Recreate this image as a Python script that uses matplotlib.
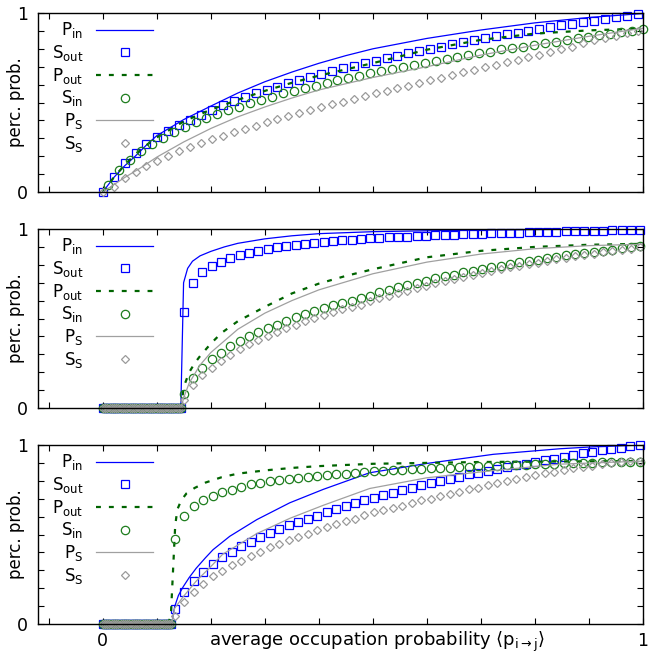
import numpy as np
import matplotlib
matplotlib.use("Agg")
import matplotlib.pyplot as plt

plt.rcParams['font.family'] = ['DejaVu Sans']
plt.rcParams['mathtext.default'] = 'regular'
plt.rcParams['font.size'] = 12

# ---------------- panel 1 ----------------
x1 = np.linspace(0.0, 1.0, 100)
s_out_1 = [0.0, 0.085, 0.16, 0.22, 0.266, 0.309, 0.343, 0.374, 0.402, 0.431,
           0.458, 0.486, 0.510, 0.529, 0.551, 0.570, 0.589, 0.607, 0.626, 0.644,
           0.659, 0.676, 0.691, 0.706, 0.719, 0.734, 0.747, 0.760, 0.775, 0.788,
           0.799, 0.812, 0.827, 0.840, 0.849, 0.858, 0.871, 0.883, 0.890, 0.899,
           0.909, 0.920, 0.931, 0.938, 0.949, 0.957, 0.964, 0.975, 0.983, 0.992]
s_in_1 = [0.039, 0.123, 0.179, 0.231, 0.268, 0.303, 0.333, 0.365, 0.389, 0.411,
          0.436, 0.458, 0.477, 0.495, 0.514, 0.533, 0.551, 0.566, 0.579, 0.594,
          0.611, 0.626, 0.639, 0.650, 0.663, 0.678, 0.687, 0.700, 0.709, 0.722,
          0.734, 0.743, 0.756, 0.765, 0.775, 0.784, 0.797, 0.806, 0.812, 0.821,
          0.830, 0.840, 0.849, 0.858, 0.868, 0.877, 0.883, 0.896, 0.901, 0.909]
s_s_1 = [0.0, 0.030, 0.076, 0.109, 0.145, 0.175, 0.201, 0.231, 0.253, 0.272,
         0.296, 0.313, 0.333, 0.352, 0.371, 0.389, 0.408, 0.425, 0.440, 0.458,
         0.473, 0.490, 0.505, 0.520, 0.536, 0.551, 0.566, 0.579, 0.594, 0.611,
         0.626, 0.639, 0.654, 0.669, 0.682, 0.697, 0.709, 0.724, 0.737, 0.752,
         0.765, 0.780, 0.797, 0.812, 0.834, 0.849, 0.858, 0.871, 0.890, 0.901]
p_in_1_x = [0, 0.02, 0.04, 0.06, 0.08, 0.1, 0.15, 0.2, 0.25, 0.3, 0.35, 0.4, 0.45,
            0.5, 0.6, 0.7, 0.8, 0.9, 1.0]
p_in_1 = [0, 0.08, 0.145, 0.20, 0.26, 0.315, 0.405, 0.48, 0.553, 0.616, 0.67,
          0.719, 0.762, 0.80, 0.858, 0.905, 0.945, 0.975, 0.997]
p_out_1_x = [0, 0.02, 0.04, 0.06, 0.08, 0.1, 0.15, 0.2, 0.25, 0.3, 0.35, 0.4,
             0.5, 0.6, 0.7, 0.8, 0.9, 1.0]
p_out_1 = [0, 0.08, 0.15, 0.21, 0.26, 0.305, 0.395, 0.46, 0.515, 0.565, 0.61,
           0.65, 0.72, 0.795, 0.85, 0.885, 0.903, 0.913]
p_s_1_x = [0, 0.04, 0.07, 0.1, 0.15, 0.2, 0.25, 0.3, 0.35, 0.4, 0.5, 0.6, 0.7,
           0.8, 0.9, 1.0]
p_s_1 = [0, 0.08, 0.135, 0.195, 0.28, 0.355, 0.42, 0.475, 0.525, 0.57, 0.64,
         0.70, 0.765, 0.82, 0.87, 0.915]

# ---------------- panel 2 ----------------
strip_x2 = np.linspace(0.0, 0.145, 36)
x2 = np.linspace(0.150, 0.995, 50)
s_out_2 = [0.535, 0.699, 0.758, 0.792, 0.818, 0.836, 0.853, 0.866, 0.877, 0.889,
           0.898, 0.903, 0.911, 0.916, 0.922, 0.929, 0.933, 0.937, 0.940, 0.944,
           0.948, 0.950, 0.953, 0.956, 0.958, 0.960, 0.962, 0.964, 0.966, 0.968,
           0.970, 0.972, 0.974, 0.976, 0.977, 0.979, 0.980, 0.982, 0.983, 0.984,
           0.986, 0.987, 0.988, 0.989, 0.990, 0.991, 0.992, 0.993, 0.994, 0.995]
s_in_2 = [0.080, 0.167, 0.225, 0.271, 0.308, 0.344, 0.374, 0.400, 0.424, 0.446,
          0.466, 0.487, 0.507, 0.526, 0.541, 0.558, 0.573, 0.588, 0.600, 0.613,
          0.628, 0.647, 0.660, 0.675, 0.688, 0.699, 0.712, 0.725, 0.736, 0.745,
          0.758, 0.768, 0.777, 0.786, 0.795, 0.805, 0.814, 0.823, 0.829, 0.836,
          0.845, 0.853, 0.860, 0.866, 0.873, 0.879, 0.884, 0.892, 0.897, 0.903]
s_s_2 = [0.043, 0.126, 0.182, 0.225, 0.264, 0.297, 0.327, 0.355, 0.381, 0.405,
         0.427, 0.446, 0.466, 0.485, 0.504, 0.521, 0.536, 0.551, 0.566, 0.578,
         0.595, 0.612, 0.626, 0.642, 0.656, 0.668, 0.682, 0.696, 0.708, 0.718,
         0.732, 0.743, 0.753, 0.764, 0.774, 0.785, 0.795, 0.805, 0.812, 0.820,
         0.830, 0.839, 0.847, 0.854, 0.862, 0.869, 0.875, 0.884, 0.891, 0.898]
p_in_2_x = [0, 0.1445, 0.1495, 0.157, 0.166, 0.18, 0.2, 0.225, 0.25, 0.3, 0.35,
            0.4, 0.5, 0.6, 0.7, 0.8, 0.9, 1.0]
p_in_2 = [0.018, 0.018, 0.70, 0.78, 0.82, 0.85, 0.875, 0.90, 0.92, 0.945, 0.962,
          0.974, 0.985, 0.99, 0.994, 0.997, 0.999, 1.0]
p_out_2_x = [0, 0.145, 0.150, 0.16, 0.17, 0.18, 0.2, 0.22, 0.25, 0.3, 0.35, 0.4,
             0.45, 0.5, 0.6, 0.7, 0.8, 0.9, 1.0]
p_out_2 = [0.005, 0.005, 0.12, 0.20, 0.25, 0.29, 0.36, 0.42, 0.485, 0.565, 0.64,
           0.695, 0.738, 0.775, 0.842, 0.878, 0.90, 0.912, 0.917]
p_s_2_x = [0, 0.145, 0.15, 0.16, 0.18, 0.2, 0.25, 0.3, 0.35, 0.4, 0.5, 0.6, 0.7,
           0.8, 0.9, 1.0]
p_s_2 = [0.003, 0.003, 0.06, 0.14, 0.24, 0.31, 0.44, 0.53, 0.60, 0.66, 0.75,
         0.815, 0.86, 0.89, 0.907, 0.915]

# ---------------- panel 3 ----------------
strip_x3 = np.linspace(0.0, 0.127, 32)
x3 = np.linspace(0.133, 0.994, 50)
s_out_3 = [0.082, 0.177, 0.241, 0.290, 0.335, 0.372, 0.404, 0.434, 0.460, 0.486,
           0.508, 0.531, 0.551, 0.570, 0.589, 0.606, 0.624, 0.643, 0.658, 0.676,
           0.691, 0.705, 0.718, 0.733, 0.748, 0.761, 0.774, 0.789, 0.798, 0.811,
           0.823, 0.836, 0.845, 0.854, 0.867, 0.877, 0.886, 0.895, 0.905, 0.916,
           0.923, 0.934, 0.944, 0.953, 0.960, 0.970, 0.979, 0.985, 0.993, 0.998]
s_in_3 = [0.475, 0.605, 0.657, 0.690, 0.714, 0.736, 0.751, 0.765, 0.780, 0.789,
          0.798, 0.804, 0.811, 0.817, 0.822, 0.826, 0.832, 0.836, 0.839, 0.845,
          0.851, 0.852, 0.856, 0.858, 0.860, 0.864, 0.868, 0.869, 0.871, 0.873,
          0.877, 0.879, 0.880, 0.882, 0.884, 0.886, 0.888, 0.890, 0.892, 0.893,
          0.895, 0.897, 0.899, 0.901, 0.901, 0.903, 0.905, 0.905, 0.906, 0.906]
s_s_3 = [0.045, 0.125, 0.181, 0.224, 0.266, 0.297, 0.327, 0.353, 0.382, 0.404,
         0.428, 0.449, 0.471, 0.486, 0.505, 0.523, 0.542, 0.559, 0.574, 0.589,
         0.608, 0.624, 0.636, 0.649, 0.662, 0.677, 0.690, 0.701, 0.714, 0.729,
         0.738, 0.752, 0.761, 0.774, 0.789, 0.798, 0.811, 0.823, 0.832, 0.845,
         0.851, 0.860, 0.869, 0.877, 0.882, 0.892, 0.897, 0.905, 0.908, 0.910]
p_in_3_x = [0, 0.126, 0.128, 0.133, 0.14, 0.149, 0.16, 0.173, 0.19, 0.204, 0.235,
            0.285, 0.346, 0.408, 0.494, 0.6, 0.723, 0.846, 0.908, 1.0]
p_in_3 = [0.01, 0.01, 0.01, 0.097, 0.16, 0.209, 0.26, 0.312, 0.37, 0.415, 0.49,
          0.583, 0.677, 0.752, 0.845, 0.897, 0.948, 0.979, 0.99, 1.0]
p_out_3_x = [0, 0.122, 0.126, 0.13, 0.134, 0.138, 0.145, 0.155, 0.17, 0.19, 0.22,
             0.25, 0.3, 0.35, 0.4, 0.5, 0.6, 0.7, 0.8, 0.9, 1.0]
p_out_3 = [0.01, 0.01, 0.05, 0.3, 0.55, 0.64, 0.69, 0.73, 0.76, 0.79, 0.82, 0.84,
           0.858, 0.872, 0.882, 0.895, 0.9, 0.905, 0.907, 0.909, 0.91]
p_s_3_x = [0, 0.126, 0.128, 0.133, 0.149, 0.173, 0.198, 0.222, 0.285, 0.346,
           0.408, 0.494, 0.6, 0.723, 0.846, 1.0]
p_s_3 = [0.005, 0.005, 0.01, 0.088, 0.153, 0.24, 0.315, 0.39, 0.505, 0.59, 0.663,
         0.757, 0.817, 0.857, 0.893, 0.91]

labels = ['P$_{in}$', 'S$_{out}$', 'P$_{out}$', 'S$_{in}$', 'P$_{S}$', 'S$_{S}$']
blue = '#0000ff'
green = '#006400'
green_m = '#1e7d1e'
gray = '#a0a0a0'
gray_m = '#9a9a9a'

fig = plt.figure(figsize=(6.49, 6.54), dpi=100)
left, width, height = 38 / 649, 605 / 649, 179 / 654
bottoms = [1 - 192 / 654, 1 - 408 / 654, 1 - 624 / 654]

panels = [
    dict(xs=x1[0::2], xi=x1[1::2], so=s_out_1, si=s_in_1, ss=s_s_1,
         pin=(p_in_1_x, p_in_1), pout=(p_out_1_x, p_out_1), ps=(p_s_1_x, p_s_1),
         strip=None),
    dict(xs=x2, xi=x2, so=s_out_2, si=s_in_2, ss=s_s_2,
         pin=(p_in_2_x, p_in_2), pout=(p_out_2_x, p_out_2), ps=(p_s_2_x, p_s_2),
         strip=strip_x2),
    dict(xs=x3, xi=x3, so=s_out_3, si=s_in_3, ss=s_s_3,
         pin=(p_in_3_x, p_in_3), pout=(p_out_3_x, p_out_3), ps=(p_s_3_x, p_s_3),
         strip=strip_x3),
]

for k, (b, d) in enumerate(zip(bottoms, panels)):
    ax = fig.add_axes([left, b, width, height])
    xs, xi = np.asarray(d['xs']), np.asarray(d['xi'])
    so, si, ss = np.asarray(d['so']), np.asarray(d['si']), np.asarray(d['ss'])
    if d['strip'] is not None:
        z = np.zeros(len(d['strip']))
        xs = np.concatenate([d['strip'], xs]); xi = np.concatenate([d['strip'], xi])
        so = np.concatenate([z, so]); si = np.concatenate([z, si]); ss = np.concatenate([z, ss])

    mk = dict(linestyle='none', markerfacecolor='none', clip_on=False)
    ax.plot(*d['pin'], color=blue, lw=0.9, label=labels[0])
    ax.plot(xs, so, marker='s', ms=5.5, mec=blue, mew=0.9, label=labels[1], **mk)
    ax.plot(*d['pout'], color=green, lw=1.6, dashes=(2.2, 3.6), label=labels[2])
    ax.plot(xi, si, marker='o', ms=6, mec=green_m, mew=0.9, label=labels[3], **mk)
    ax.plot(*d['ps'], color=gray, lw=0.9, label=labels[4])
    ax.plot(xs, ss, marker='D', ms=3.6, mec=gray_m, mew=0.9, label=labels[5], **mk)

    ax.set_xlim(-0.12, 1.0)
    ax.set_ylim(0, 1)
    ax.set_xticks([0, 1])
    ax.set_xticks(np.arange(-0.1, 1.0, 0.1), minor=True)
    ax.set_yticks([0, 1])
    ax.set_yticks(np.arange(0.1, 1.0, 0.1), minor=True)
    ax.tick_params(which='both', direction='in', top=True, right=True,
                   length=4, width=0.8, labelsize=12.5)
    ax.tick_params(axis='y', pad=7)
    ax.set_yticklabels(['0', '1'])
    if k < 2:
        ax.set_xticklabels([])
    else:
        ax.set_xticklabels(['0', '1'])
        ax.tick_params(axis='x', pad=6)
        ax.set_xlabel(r'average occupation probability $\langle p_{i\to j}\rangle$',
                      fontsize=13)
        ax.xaxis.set_label_coords(0.5595, -0.033)
        ax.xaxis.label.set_va('top')
    for s in ax.spines.values():
        s.set_linewidth(1.0)
    ax.set_ylabel('perc. prob.', fontsize=12)
    ax.yaxis.set_label_coords(-0.021, 0.5)

    ax.legend(loc='upper left', bbox_to_anchor=(0.01, 1.0), frameon=False,
              markerfirst=False, handlelength=3.4, handletextpad=0.8,
              labelspacing=0.16, borderaxespad=0.45, borderpad=0.0, fontsize=12)

fig.savefig('out.png', dpi=100)
